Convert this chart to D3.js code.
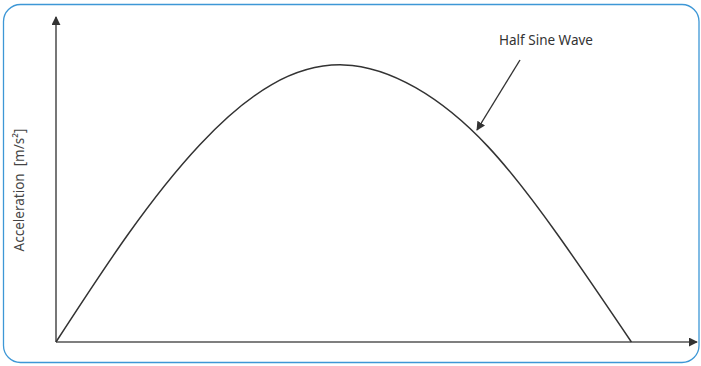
<!DOCTYPE html>
<html>
<head>
<meta charset="utf-8">
<script src="https://cdn.jsdelivr.net/npm/d3@7"></script>
<style>
  html, body { margin: 0; padding: 0; background: #fff; }
  svg { display: block; }
</style>
</head>
<body>
<svg></svg>
<script>
var width = 701;
var height = 366;

// pulse: time as a fraction of pulse length, acceleration as a fraction of peak
var pulseTime = [0, 0.125, 0.25, 0.375, 0.5, 0.625, 0.75, 0.875, 1];
var pulseAccel = [0, 0.388, 0.712, 0.929, 1, 0.918, 0.707, 0.378, 0];
var timeMax = 1.114;
var accelMax = 1.173;

var curveLabel = 'Half Sine Wave';
var yLabel = 'Acceleration  [m/s\u00B2]';

var data = pulseTime.map(function(t, i) { return {t: t, a: pulseAccel[i]}; });

var svg = d3.select('svg')
  .attr('width', width)
  .attr('height', height);

var defs = svg.append('defs');
defs.append('marker')
  .attr('id', 'arrow')
  .attr('viewBox', '0 0 10 10')
  .attr('refX', 9)
  .attr('refY', 5)
  .attr('markerWidth', 9)
  .attr('markerHeight', 9)
  .attr('markerUnits', 'userSpaceOnUse')
  .attr('orient', 'auto')
  .append('path')
  .attr('d', 'M0,0L10,5L0,10Z')
  .attr('fill', '#333');

// frame
svg.append('rect')
  .attr('x', 3.5)
  .attr('y', 4.5)
  .attr('width', 695.5)
  .attr('height', 358)
  .attr('rx', 17)
  .attr('ry', 17)
  .attr('fill', 'none')
  .attr('stroke', '#3d97d6')
  .attr('stroke-width', 1.3);

var x = d3.scaleLinear().domain([0, timeMax]).range([56, 697]);
var y = d3.scaleLinear().domain([0, accelMax]).range([342, 17]);

// axes with arrow heads
svg.append('line')
  .attr('x1', x(0)).attr('y1', y(0))
  .attr('x2', x(0)).attr('y2', y(accelMax))
  .attr('stroke', '#555')
  .attr('stroke-width', 1.6)
  .attr('marker-end', 'url(#arrow)');

svg.append('line')
  .attr('x1', x(0)).attr('y1', y(0))
  .attr('x2', x(timeMax)).attr('y2', y(0))
  .attr('stroke', '#555')
  .attr('stroke-width', 1.6)
  .attr('marker-end', 'url(#arrow)');

var line = d3.line()
  .x(function(d) { return x(d.t); })
  .y(function(d) { return y(d.a); })
  .curve(d3.curveNatural);

svg.append('path')
  .datum(data)
  .attr('d', line)
  .attr('fill', 'none')
  .attr('stroke', '#333')
  .attr('stroke-width', 1.5);

// label + pointer
svg.append('text')
  .attr('x', 546)
  .attr('y', 45)
  .attr('text-anchor', 'middle')
  .attr('font-family', 'Noto Sans, sans-serif')
  .attr('font-size', 13.5)
  .attr('fill', '#333')
  .text(curveLabel);

svg.append('line')
  .attr('x1', 520).attr('y1', 60)
  .attr('x2', 477).attr('y2', 130)
  .attr('stroke', '#333')
  .attr('stroke-width', 1.4)
  .attr('marker-end', 'url(#arrow)');

svg.append('text')
  .attr('transform', 'translate(24, 190) rotate(-90)')
  .attr('text-anchor', 'middle')
  .attr('font-family', 'Noto Sans, sans-serif')
  .attr('font-size', 13.5)
  .attr('fill', '#444')
  .style('white-space', 'pre')
  .text(yLabel);
</script>
</body>
</html>
